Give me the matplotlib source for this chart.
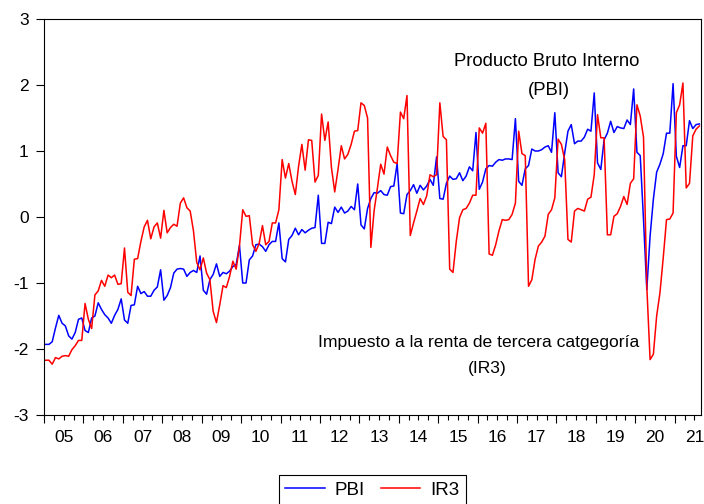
import numpy as np
import matplotlib.pyplot as plt

plt.rcParams['font.family'] = ['Liberation Sans', 'DejaVu Sans']
plt.rcParams['axes.unicode_minus'] = False

# Series mensuales 2005M01 - 2021M08 (valores estandarizados)
pbi = [-1.93, -1.93, -1.89, -1.68, -1.49, -1.61, -1.65, -1.80, -1.85, -1.75, -1.55, -1.53,
       -1.72, -1.75, -1.53, -1.50, -1.30, -1.40, -1.48, -1.53, -1.61, -1.49, -1.40, -1.24,
       -1.56, -1.61, -1.34, -1.33, -1.05, -1.16, -1.13, -1.20, -1.20, -1.11, -1.06, -0.80,
       -1.26, -1.19, -1.07, -0.85, -0.79, -0.78, -0.79, -0.90, -0.84, -0.81, -0.84, -0.59,
       -1.11, -1.17, -0.95, -0.87, -0.71, -0.90, -0.84, -0.86, -0.82, -0.75, -0.72, -0.43,
       -1.00, -1.00, -0.65, -0.59, -0.42, -0.41, -0.45, -0.52, -0.42, -0.37, -0.37, -0.09,
       -0.63, -0.68, -0.34, -0.28, -0.17, -0.27, -0.19, -0.24, -0.20, -0.17, -0.16, 0.33,
       -0.40, -0.40, -0.08, -0.10, 0.15, 0.07, 0.15, 0.06, 0.09, 0.16, 0.11, 0.50,
       -0.12, -0.18, 0.13, 0.28, 0.37, 0.36, 0.40, 0.34, 0.33, 0.46, 0.47, 0.81,
       0.06, 0.05, 0.34, 0.40, 0.49, 0.36, 0.48, 0.41, 0.47, 0.57, 0.48, 0.91,
       0.28, 0.27, 0.51, 0.62, 0.57, 0.58, 0.67, 0.55, 0.62, 0.76, 0.70, 1.28,
       0.42, 0.53, 0.73, 0.78, 0.77, 0.83, 0.87, 0.86, 0.88, 0.88, 0.87, 1.49,
       0.54, 0.48, 0.73, 0.78, 1.03, 1.00, 1.00, 1.02, 1.06, 1.08, 0.98, 1.58,
       0.67, 0.61, 0.97, 1.30, 1.40, 1.11, 1.15, 1.15, 1.21, 1.33, 1.30, 1.88,
       0.82, 0.72, 1.17, 1.27, 1.45, 1.28, 1.37, 1.35, 1.34, 1.47, 1.40, 1.94,
       0.98, 0.93, -0.04, -1.10, -0.29, 0.27, 0.68, 0.80, 0.96, 1.27, 1.27, 2.02,
       0.92, 0.75, 1.08, 1.08, 1.46, 1.34, 1.40, 1.41]

ir3 = [-2.17, -2.17, -2.23, -2.13, -2.15, -2.11, -2.10, -2.11, -2.01, -1.95, -1.87, -1.87,
       -1.31, -1.55, -1.69, -1.18, -1.12, -0.96, -1.05, -0.88, -0.92, -0.88, -1.02, -1.01,
       -0.47, -1.14, -1.19, -0.64, -0.63, -0.37, -0.15, -0.05, -0.33, -0.15, -0.09, -0.32,
       0.10, -0.24, -0.16, -0.11, -0.14, 0.21, 0.29, 0.14, 0.09, -0.21, -0.69, -0.80,
       -0.62, -0.85, -0.95, -1.43, -1.60, -1.33, -1.04, -1.07, -0.90, -0.67, -0.79, -0.44,
       0.11, 0.01, 0.02, -0.42, -0.52, -0.40, -0.13, -0.42, -0.37, -0.09, -0.09, 0.11,
       0.87, 0.59, 0.81, 0.54, 0.34, 0.77, 1.10, 0.71, 1.17, 1.16, 0.53, 0.63,
       1.56, 1.16, 1.44, 0.75, 0.38, 0.72, 1.08, 0.88, 0.95, 1.10, 1.30, 1.31,
       1.73, 1.69, 1.50, -0.46, 0.10, 0.44, 0.80, 0.65, 1.06, 0.93, 0.83, 0.81,
       1.59, 1.49, 1.84, -0.28, -0.09, 0.09, 0.28, 0.19, 0.32, 0.64, 0.61, 0.64,
       1.73, 1.22, 1.17, -0.79, -0.84, -0.37, -0.01, 0.11, 0.13, 0.21, 0.33, 0.33,
       1.35, 1.27, 1.42, -0.56, -0.58, -0.42, -0.21, -0.04, -0.05, -0.04, 0.04, 0.21,
       1.30, 0.96, 0.93, -1.05, -0.95, -0.64, -0.44, -0.38, -0.29, 0.04, 0.11, 0.29,
       1.18, 1.10, 0.87, -0.34, -0.38, 0.09, 0.13, 0.11, 0.09, 0.27, 0.30, 0.64,
       1.55, 1.20, 1.20, -0.27, -0.27, 0.01, 0.05, 0.16, 0.31, 0.19, 0.51, 0.58,
       1.70, 1.53, 1.21, -1.05, -2.16, -2.08, -1.50, -1.15, -0.62, -0.04, -0.03, 0.06,
       1.58, 1.70, 2.03, 0.44, 0.51, 1.23, 1.33, 1.38]

anios = ['05', '06', '07', '08', '09', '10', '11', '12', '13', '14', '15', '16',
         '17', '18', '19', '20', '21']

meses = np.arange(len(pbi))
n = len(pbi)

fig = plt.figure(figsize=(7.04, 5.04), dpi=100)
ax = fig.add_axes([44 / 704, 89 / 504, 657 / 704, 396 / 504])

ax.plot(meses, pbi, color='blue', lw=1.1, label='PBI')
ax.plot(meses, ir3, color='red', lw=1.1, label='IR3')

ax.set_xlim(-0.5, n - 0.5)
ax.set_ylim(-3, 3)
ax.set_yticks(range(-3, 4))
ax.set_yticklabels([str(v) for v in range(-3, 4)])

# marcas de años (mayores) y trimestres (menores)
ax.set_xticks(np.arange(0, n + 1, 12) - 0.5)
ax.set_xticks(np.arange(0, n + 1, 3) - 0.5, minor=True)
ax.tick_params(axis='x', which='major', direction='out', length=6, width=0.8, labelbottom=False)
ax.tick_params(axis='x', which='minor', direction='out', length=3.5, width=0.8)
ax.tick_params(axis='y', direction='out', length=6, width=0.8, pad=5, labelsize=12.5)
for s in ax.spines.values():
    s.set_linewidth(0.8)

# etiquetas de los años centradas en cada año
sec = ax.secondary_xaxis('bottom')
sec.set_xticks(np.arange(len(anios)) * 12 + 5.5, anios)
sec.tick_params(length=0, pad=11, labelsize=12.5)
sec.spines['bottom'].set_visible(False)

ax.text(152.6, 2.29, 'Producto Bruto Interno', ha='center', va='baseline', fontsize=13.3)
ax.text(153.2, 1.85, '(PBI)', ha='center', va='baseline', fontsize=13.3)
ax.text(131.9, -1.97, 'Impuesto a la renta de tercera catgegoría', ha='center', va='baseline', fontsize=12.6)
ax.text(134.4, -2.37, '(IR3)', ha='center', va='baseline', fontsize=12.6)

leg = fig.legend(loc='upper center', bbox_to_anchor=(372.5 / 704, 1 - 475 / 504), ncol=2,
                 fontsize=13.5, fancybox=False, edgecolor='black', framealpha=1,
                 borderpad=0.35, borderaxespad=0, handlelength=2.1, handletextpad=0.55,
                 columnspacing=0.85)
leg.get_frame().set_linewidth(0.8)

fig.savefig('out.png', dpi=100)
